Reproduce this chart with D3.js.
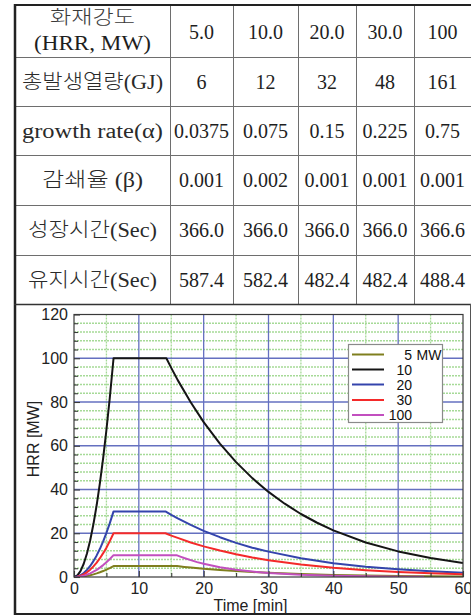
<!DOCTYPE html>
<html><head><meta charset="utf-8">
<script src="https://cdn.jsdelivr.net/npm/d3@7"></script>
<style>body{margin:0;background:#fff}svg{display:block}</style>
</head><body><svg id="c" width="471" height="616"></svg>
<script>
// ---------- table data ----------
const headLabel1 = "화재강도";
const headLabel2 = "(HRR,  MW)";
const colHeaders = ["5.0", "10.0", "20.0", "30.0", "100"];
const rowLabels = ["총발생열량(GJ)", "growth  rate(α)", "감쇄율  (β)", "성장시간(Sec)", "유지시간(Sec)"];
const totalHeat = ["6", "12", "32", "48", "161"];
const growthRate = ["0.0375", "0.075", "0.15", "0.225", "0.75"];
const decayRate = ["0.001", "0.002", "0.001", "0.001", "0.001"];
const growthTime = ["366.0", "366.0", "366.0", "366.0", "366.6"];
const holdTime = ["587.4", "582.4", "482.4", "482.4", "488.4"];

// ---------- chart data (time [min], HRR [MW]) ----------
const seriesNames = ["5 MW", "10", "20", "30", "100"];
const xTicks = [0, 10, 20, 30, 40, 50, 60];
const yTicks = [0, 20, 40, 60, 80, 100, 120];

const tOlive = [0,0.5,1,1.5,2,2.5,3,3.5,4,4.5,5,5.5,6.1,15.9,17,18,20,22.5,25,27.5,30,35,40,45,50,55,60];
const hOlive = [0,0.03,0.13,0.30,0.54,0.84,1.21,1.65,2.15,2.72,3.36,4.06,5,5,4.6,4.3,3.8,3.2,2.7,2.3,1.9,1.35,0.95,0.7,0.5,0.35,0.25];

const tBlack = [0,0.5,1,1.5,2,2.5,3,3.5,4,4.5,5,5.5,6.1,14.25,15,16,18,20,22.5,25,27.5,30,32.5,35,37.5,40,45,50,55,60];
const hBlack = [0,0.67,2.69,6.05,10.75,16.8,24.2,32.9,43.0,54.4,67.2,81.3,100,100,95.6,90,79.9,70.8,61,52.5,45.2,38.9,33.5,28.8,24.8,21.3,15.8,11.7,8.7,6.4];

const tBlue = [0,0.5,1,1.5,2,2.5,3,3.5,4,4.5,5,5.5,6.1,14.1,15,16,18,20,22.5,25,27.5,30,35,40,45,50,55,60];
const hBlue = [0,0.2,0.81,1.81,3.22,5.04,7.26,9.88,12.9,16.3,20.2,24.4,30,30,28.4,26.8,23.8,21.1,18.2,15.6,13.4,11.6,8.6,6.3,4.7,3.5,2.6,1.9];

const tRed = [0,0.5,1,1.5,2,2.5,3,3.5,4,4.5,5,5.5,6.1,14.1,15,16,18,20,22.5,25,27.5,30,35,40,45,50,55,60];
const hRed = [0,0.13,0.54,1.21,2.15,3.36,4.84,6.58,8.6,10.9,13.4,16.3,20,20,18.9,17.9,15.8,14.0,12.1,10.4,8.9,7.7,5.7,4.2,3.1,2.3,1.7,1.3];

const tMagenta = [0,0.5,1,1.5,2,2.5,3,3.5,4,4.5,5,5.5,6.1,15.8,16.5,17,18,19,20,22.5,25,27.5,30,35,40,45,50,54];
const hMagenta = [0,0.07,0.27,0.6,1.07,1.68,2.42,3.29,4.3,5.44,6.72,8.13,10,10,9.2,8.66,7.7,6.8,6.04,4.5,3.3,2.5,1.8,1.0,0.55,0.3,0.17,0.1];

const seriesT = [tOlive, tBlack, tBlue, tRed, tMagenta];
const seriesH = [hOlive, hBlack, hBlue, hRed, hMagenta];
const seriesColors = ["#7f7f1e", "#151515", "#3444ac", "#f42a2a", "#c24fbf"];

// ---------- drawing ----------
const svg = d3.select("#c");
const serif = "'Liberation Serif', 'Noto Sans CJK KR', serif";
const sans = "'Liberation Sans', Arial, sans-serif";

// table geometry
const colX = [15, 170, 233, 298, 356, 414, 471];
const rowY = [5, 57, 106, 155, 205, 255, 304];
const tbl = svg.append("g");

rowY.slice(1, 6).forEach(yy => tbl.append("line").attr("x1", 15).attr("x2", 471)
  .attr("y1", yy + 0.5).attr("y2", yy + 0.5).attr("stroke", "#6e6e6e").attr("stroke-width", 1));
colX.slice(1, 6).forEach(xx => tbl.append("line").attr("x1", xx + 0.5).attr("x2", xx + 0.5)
  .attr("y1", 5).attr("y2", 304).attr("stroke", "#6e6e6e").attr("stroke-width", 1));

function txt(g, x, y, s, opts) {
  const t = g.append("text").attr("x", x).attr("y", y).attr("text-anchor", "middle")
    .attr("font-family", serif).attr("font-size", opts.size || 20).attr("fill", "#1e1e1e").text(s);
  if (opts.len) t.attr("textLength", opts.len).attr("lengthAdjust", "spacingAndGlyphs");
  if (opts.weight) t.attr("font-weight", opts.weight);
  return t;
}
const labelCx = 92.5;
txt(tbl, labelCx, 24, headLabel1, {size: 19, len: 85, weight: 300}).attr("fill", "#3a3a3a");
txt(tbl, labelCx, 50, headLabel2, {size: 20, len: 117});
const labelLens = [141, 141, 101, 129, 129];
rowLabels.forEach((s, i) => {
  txt(tbl, labelCx, rowY[i + 1] + 32, s, {size: 20, len: labelLens[i], weight: 300}).attr("fill", "#2a2a2a");
});
const valueRows = [totalHeat, growthRate, decayRate, growthTime, holdTime];
colHeaders.forEach((s, j) => {
  const cx = (colX[j + 1] + colX[j + 2]) / 2;
  txt(tbl, cx, 39, s, {size: 20});
  valueRows.forEach((row, i) => txt(tbl, cx, rowY[i + 1] + 32, row[j], {size: 20}));
});

// chart
const L = 74, R = 463, T = 314.5, B = 577;
const x = d3.scaleLinear().domain([0, 60]).range([L, R]);
const y = d3.scaleLinear().domain([0, 120]).range([B, T]);
const cg = svg.append("g");

const xMinor = d3.range(5, 60, 10);
const yMinor = d3.range(4, 120, 4).filter(v => v % 20 !== 0);
cg.selectAll(".gxm").data(xMinor).enter().append("line")
  .attr("x1", d => x(d)).attr("x2", d => x(d)).attr("y1", T).attr("y2", B)
  .attr("stroke", "#a6da97").attr("stroke-width", 1.3).attr("stroke-dasharray", "2,1");
cg.selectAll(".gym").data(yMinor).enter().append("line")
  .attr("x1", L).attr("x2", R).attr("y1", d => y(d)).attr("y2", d => y(d))
  .attr("stroke", "#a6da97").attr("stroke-width", 1.3).attr("stroke-dasharray", "2,1");
cg.selectAll(".gx").data(xTicks.slice(1, -1)).enter().append("line")
  .attr("x1", d => x(d)).attr("x2", d => x(d)).attr("y1", T).attr("y2", B)
  .attr("stroke", "#6570c0").attr("stroke-width", 1.3);
cg.selectAll(".gy").data(yTicks.slice(1, -1)).enter().append("line")
  .attr("x1", L).attr("x2", R).attr("y1", d => y(d)).attr("y2", d => y(d))
  .attr("stroke", "#6570c0").attr("stroke-width", 1.3);

svg.append("clipPath").attr("id", "pc").append("rect")
  .attr("x", L).attr("y", T - 2).attr("width", R - L).attr("height", B - T + 2);
const line = d3.line().x(d => x(d[0])).y(d => y(d[1]));
seriesT.forEach((ts, i) => {
  cg.append("path").datum(ts.map((t, k) => [t, seriesH[i][k]]))
    .attr("d", line).attr("fill", "none").attr("stroke", seriesColors[i])
    .attr("stroke-width", 2).attr("stroke-linejoin", "round").attr("clip-path", "url(#pc)");
});

cg.append("rect").attr("x", L).attr("y", T).attr("width", R - L).attr("height", B - T)
  .attr("fill", "none").attr("stroke", "#3a3a3a").attr("stroke-width", 1.2);

cg.append("g").attr("transform", `translate(${L},0)`)
  .call(d3.axisLeft(y).tickValues(yTicks).tickSize(-6).tickPadding(6));
cg.append("g").attr("transform", `translate(${L},0)`)
  .call(d3.axisLeft(y).tickValues(yMinor).tickSize(-4).tickFormat(""));
cg.append("g").attr("transform", `translate(0,${B})`)
  .call(d3.axisBottom(x).tickValues(xTicks).tickSize(-6).tickPadding(6));
cg.append("g").attr("transform", `translate(0,${B})`)
  .call(d3.axisBottom(x).tickValues(xMinor).tickSize(-4).tickFormat(""));
cg.selectAll(".domain").remove();
cg.selectAll(".tick line").attr("stroke", "#3a3a3a").attr("stroke-width", 1.1);
cg.selectAll(".tick text").attr("font-family", sans).attr("font-size", 16).attr("fill", "#222");

cg.append("text").attr("x", 250.5).attr("y", 611).attr("text-anchor", "middle")
  .attr("font-family", sans).attr("font-size", 16).attr("fill", "#222").text("Time [min]");
cg.append("text").attr("transform", "translate(39,439) rotate(-90)").attr("text-anchor", "middle")
  .attr("font-family", sans).attr("font-size", 16).attr("fill", "#222").text("HRR [MW]");

// legend
const lg = cg.append("g");
lg.append("rect").attr("x", 348.5).attr("y", 344.5).attr("width", 94).attr("height", 78)
  .attr("fill", "#fff").attr("stroke", "#8a8a8a").attr("stroke-width", 1.2);
const legY = [354.5, 369.5, 384.5, 400, 415];
seriesNames.forEach((s, i) => {
  lg.append("line").attr("x1", 352).attr("x2", 384).attr("y1", legY[i]).attr("y2", legY[i])
    .attr("stroke", seriesColors[i]).attr("stroke-width", 2);
  const parts = s.split(" ");
  lg.append("text").attr("x", 412).attr("y", legY[i] + 5).attr("text-anchor", "end")
    .attr("font-family", sans).attr("font-size", 14).attr("fill", "#111").text(parts[0]);
  if (parts[1]) lg.append("text").attr("x", 416.5).attr("y", legY[i] + 5)
    .attr("font-family", sans).attr("font-size", 14).attr("fill", "#111").text(parts[1]);
});

// outer borders
const ob = svg.append("g").attr("stroke", "#222").attr("fill", "none");
ob.append("line").attr("x1", 14).attr("x2", 471).attr("y1", 5).attr("y2", 5).attr("stroke-width", 2);
ob.append("line").attr("x1", 15).attr("x2", 15).attr("y1", 4).attr("y2", 615).attr("stroke-width", 2.5);
ob.append("line").attr("x1", 14).attr("x2", 471).attr("y1", 304.5).attr("y2", 304.5).attr("stroke-width", 1.5).attr("stroke", "#333");
ob.append("line").attr("x1", 14).attr("x2", 471).attr("y1", 614).attr("y2", 614).attr("stroke-width", 2);
ob.append("line").attr("x1", 470.5).attr("x2", 470.5).attr("y1", 304).attr("y2", 614).attr("stroke-width", 1).attr("stroke", "#555");
</script></body></html>
